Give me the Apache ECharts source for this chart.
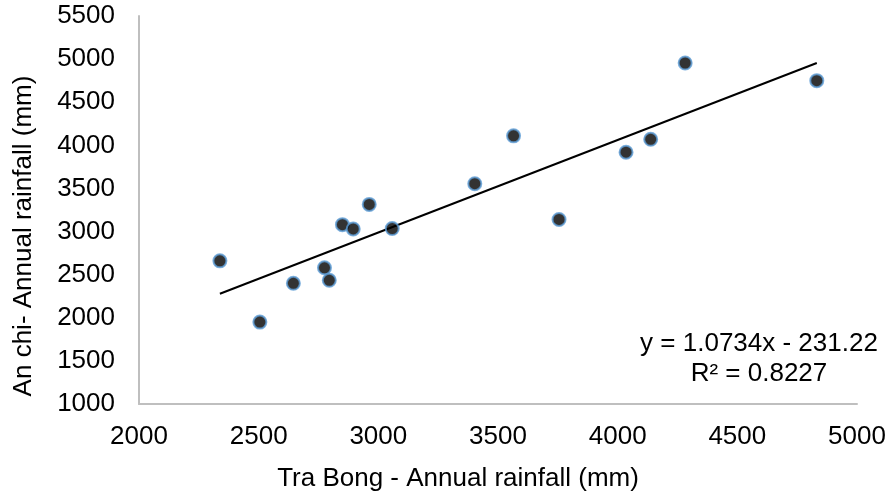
<!DOCTYPE html>
<html>
<head>
<meta charset="utf-8">
<script src="https://cdn.jsdelivr.net/npm/echarts@6/dist/echarts.min.js"></script>
<style>
  html, body { margin: 0; padding: 0; background: #fff; }
  #main { width: 894px; height: 497px; }
</style>
</head>
<body>
<div id="main"></div>
<script>
// Tra Bong (x) vs An chi (y) annual rainfall, mm
var traBong = [2338, 2505, 2645, 2775, 2795, 2850, 2895, 2962, 3058, 3403, 3565, 3755, 4035, 4138, 4282, 4832];
var anChi   = [2660, 1950, 2400, 2580, 2435, 3080, 3030, 3315, 3035, 3555, 4110, 3140, 3920, 4070, 4955, 4750];

// linear trendline as reported on the chart
var slope = 1.0734, intercept = -231.22, r2 = 0.8227;

var font = 'Arial, "Liberation Sans", sans-serif';

var points = traBong.map(function (x, i) { return [x, anChi[i]]; });
var xMin = Math.min.apply(null, traBong), xMax = Math.max.apply(null, traBong);
var trend = [[xMin, slope * xMin + intercept], [xMax, slope * xMax + intercept]];

var plain = function (v) { return String(v); };

var myChart = echarts.init(document.getElementById('main'));

var option = {
    animation: false,
    backgroundColor: '#fff',
    grid: { left: 139, right: 37, top: 16, bottom: 90 },
    xAxis: {
        type: 'value',
        min: 2000, max: 5000, interval: 500,
        name: 'Tra Bong - Annual rainfall (mm)',
        nameLocation: 'middle',
        nameGap: 62,
        nameTextStyle: { fontFamily: font, fontSize: 26, color: '#000', padding: [0, 80, 0, 0] },
        axisLine: { lineStyle: { color: '#bfbfbf', width: 2 } },
        axisTick: { show: false },
        splitLine: { show: false },
        axisLabel: { fontFamily: font, fontSize: 26, color: '#000', margin: 20, formatter: plain }
    },
    yAxis: {
        type: 'value',
        min: 1000, max: 5500, interval: 500,
        name: 'An chi- Annual rainfall (mm)',
        nameLocation: 'middle',
        nameGap: 102,
        nameTextStyle: { fontFamily: font, fontSize: 26, color: '#000', padding: [0, 52, 0, 0] },
        axisLine: { show: true, lineStyle: { color: '#bfbfbf', width: 2 } },
        axisTick: { show: false },
        splitLine: { show: false },
        axisLabel: { fontFamily: font, fontSize: 26, color: '#000', margin: 24, formatter: plain }
    },
    graphic: [{
        type: 'text',
        x: 759, y: 329,
        style: {
            text: 'y = 1.0734x - 231.22\nR\u00b2 = ' + r2,
            fontFamily: font, fontSize: 26, lineHeight: 30,
            fill: '#000', align: 'center', verticalAlign: 'top'
        }
    }],
    series: [{
        type: 'line',
        data: trend,
        symbol: 'none',
        lineStyle: { color: '#000', width: 2 },
        z: 1
    }, {
        type: 'scatter',
        data: points,
        symbolSize: 13,
        itemStyle: { color: '#000', borderColor: '#5b9bd5', borderWidth: 2 },
        z: 3
    }]
};

myChart.setOption(option);
</script>
</body>
</html>
